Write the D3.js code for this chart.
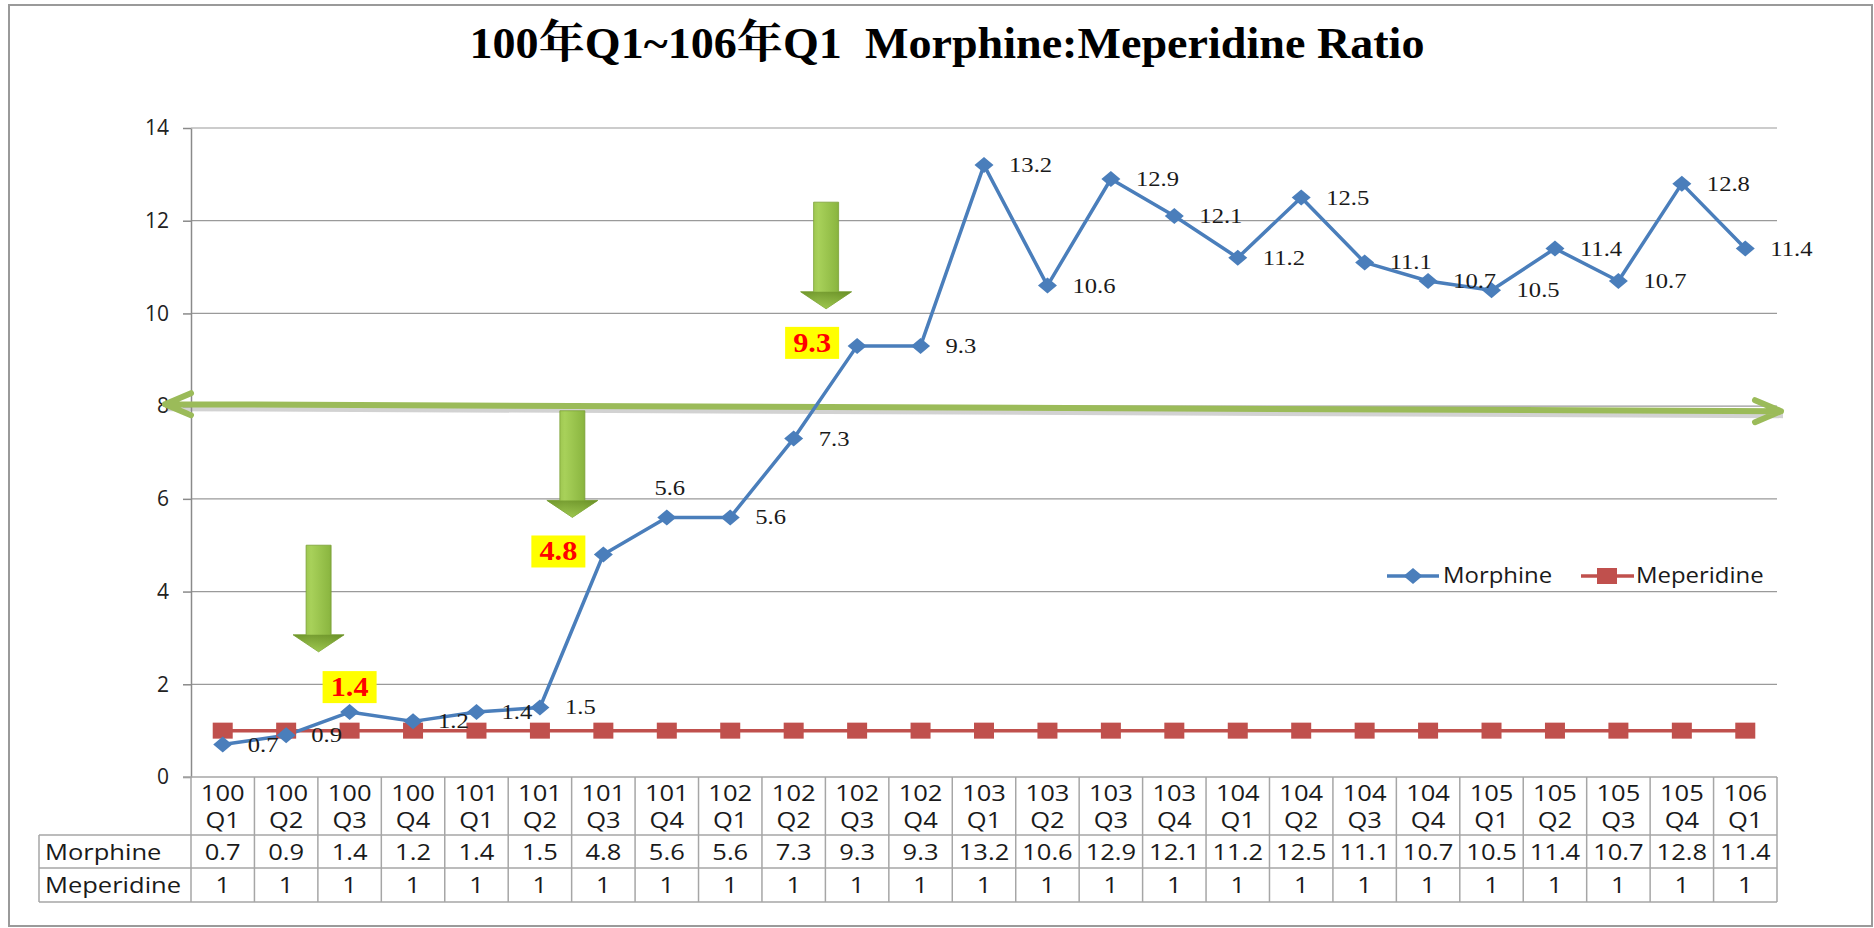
<!DOCTYPE html>
<html>
<head>
<meta charset="utf-8">
<script src="https://cdn.jsdelivr.net/npm/d3@7"></script>
<style>
  html, body { margin: 0; padding: 0; background: #fff; }
  svg { display: block; }
</style>
</head>
<body>
<svg id="chart" width="1874" height="928"></svg>
<script>
// ---------------- data ----------------
const title = "100年Q1~106年Q1  Morphine:Meperidine Ratio";
const years = ["100","100","100","100","101","101","101","101","102","102","102","102","103","103","103","103","104","104","104","104","105","105","105","105","106"];
const quarters = ["Q1","Q2","Q3","Q4","Q1","Q2","Q3","Q4","Q1","Q2","Q3","Q4","Q1","Q2","Q3","Q4","Q1","Q2","Q3","Q4","Q1","Q2","Q3","Q4","Q1"];
const categories = years.map((y, i) => y + " " + quarters[i]);
const morphine = [0.7, 0.9, 1.4, 1.2, 1.4, 1.5, 4.8, 5.6, 5.6, 7.3, 9.3, 9.3, 13.2, 10.6, 12.9, 12.1, 11.2, 12.5, 11.1, 10.7, 10.5, 11.4, 10.7, 12.8, 11.4];
const meperidine = [1, 1, 1, 1, 1, 1, 1, 1, 1, 1, 1, 1, 1, 1, 1, 1, 1, 1, 1, 1, 1, 1, 1, 1, 1];
const seriesNames = ["Morphine", "Meperidine"];
const yTicks = [0, 2, 4, 6, 8, 10, 12, 14];
const thresholdValue = 8;
// highlighted labels (category index -> placement)
const highlighted = { 2: "above", 6: "left", 10: "left" };
const aboveLabels = { 7: true };
// green down-arrows: category index, top value, tip value
const downArrows = [
  { idx: 2, top: 5.0, tip: 2.7 },
  { idx: 6, top: 7.9, tip: 5.6 },
  { idx: 10, top: 12.4, tip: 10.1 }
];

// ---------------- layout ----------------
const svg = d3.select("#chart");
const plotL = 191, plotR = 1777, plotT = 128, plotB = 777;
const rowHeader = 835, rowM = 868, rowP = 902, tableL = 39;

const x = d3.scaleBand().domain(categories).range([plotL, plotR]).padding(0);
const y = d3.scaleLinear().domain([0, 14]).range([plotB, plotT]);
const cx = i => x(categories[i]) + x.bandwidth() / 2;

const blue = "#4A7EBB", red = "#C0504D";
const sansFont = "'Open Sans', 'Noto Sans', sans-serif";
const serifFont = "'Liberation Serif', 'Times New Roman', 'Noto Serif CJK TC', 'Noto Sans CJK TC', serif";

// text placed with a horizontal stretch (the reference is slightly widened)
function stext(parent, tx, ty, str, sx, anchor) {
  return parent.append("text")
    .attr("transform", `translate(${tx},${ty}) scale(${sx},1)`)
    .attr("text-anchor", anchor || "start")
    .text(str);
}

const defs = svg.append("defs");
const grad = defs.append("linearGradient").attr("id", "arrowGrad")
  .attr("x1", "0%").attr("x2", "100%").attr("y1", "0%").attr("y2", "0%");
grad.append("stop").attr("offset", "0%").attr("stop-color", "#86AE3A");
grad.append("stop").attr("offset", "35%").attr("stop-color", "#A8D15A");
grad.append("stop").attr("offset", "70%").attr("stop-color", "#8DB842");
grad.append("stop").attr("offset", "100%").attr("stop-color", "#5E8422");
const gradV = defs.append("linearGradient").attr("id", "arrowHeadGrad")
  .attr("x1", "0%").attr("x2", "0%").attr("y1", "0%").attr("y2", "100%");
gradV.append("stop").attr("offset", "0%").attr("stop-color", "#6B9128");
gradV.append("stop").attr("offset", "100%").attr("stop-color", "#9CC64E");

// outer frame
svg.append("rect").attr("x", 9).attr("y", 5).attr("width", 1863).attr("height", 921)
  .attr("fill", "none").attr("stroke", "#9a9a9a").attr("stroke-width", 2);

// title
svg.append("text").attr("x", 947).attr("y", 58).attr("text-anchor", "middle")
  .attr("font-family", serifFont).attr("font-weight", "bold").attr("font-size", 45)
  .attr("textLength", 955).attr("lengthAdjust", "spacingAndGlyphs")
  .style("white-space", "pre").attr("xml:space", "preserve")
  .attr("fill", "#000").text(title);

// gridlines
svg.append("g").selectAll("line").data(yTicks.filter(v => v > 0)).join("line")
  .attr("x1", plotL).attr("x2", plotR).attr("y1", d => y(d)).attr("y2", d => y(d))
  .attr("stroke", "#9a9a9a").attr("stroke-width", 1.2);

// y axis
const yAxis = svg.append("g").attr("transform", `translate(${plotL},0)`)
  .call(d3.axisLeft(y).tickValues(yTicks).tickSize(8).tickSizeOuter(0).tickPadding(14).tickFormat(d3.format("d")));
yAxis.select(".domain").attr("stroke", "#8a8a8a").attr("stroke-width", 1.5);
yAxis.selectAll(".tick line").attr("stroke", "#8a8a8a").attr("stroke-width", 1.5);
yAxis.selectAll(".tick text").attr("font-family", sansFont).attr("font-size", 21).attr("fill", "#222");

// table
const tg = svg.append("g").attr("stroke", "#a6a6a6").attr("stroke-width", 1.5);
tg.append("line").attr("x1", plotL - 8).attr("x2", plotR).attr("y1", plotB).attr("y2", plotB);
[rowHeader, rowM, rowP].forEach(yy => tg.append("line").attr("x1", tableL).attr("x2", plotR).attr("y1", yy).attr("y2", yy));
tg.append("line").attr("x1", tableL).attr("x2", tableL).attr("y1", rowHeader).attr("y2", rowP);
const bounds = categories.map(c => x(c)).concat([plotR]);
tg.selectAll(".vb").data(bounds).join("line").attr("class", "vb")
  .attr("x1", d => d).attr("x2", d => d).attr("y1", plotB).attr("y2", rowP);

const txt = svg.append("g").attr("font-family", sansFont).attr("font-size", 22).attr("fill", "#1a1a1a");
const tsx = 1.16;
years.forEach((d, i) => stext(txt, cx(i), 801, d, tsx, "middle"));
quarters.forEach((d, i) => stext(txt, cx(i), 828, d, tsx, "middle"));
morphine.forEach((d, i) => stext(txt, cx(i), 860, d3.format(".1f")(d), tsx, "middle"));
meperidine.forEach((d, i) => stext(txt, cx(i), 893, String(d), tsx, "middle"));
stext(txt, 45, 860, seriesNames[0], tsx);
stext(txt, 45, 893, seriesNames[1], tsx);

// horizontal threshold double arrow (slightly tilted as in the reference)
const ty = y(thresholdValue);
const hx1 = plotL - 26, hx2 = plotR + 4;
const ly = ty - 2, ry = ty + 5;
const hArrow = svg.append("g");
hArrow.append("path")
  .attr("d", `M${hx1 + 2},${ly + 4} L${hx2 + 2},${ry + 4}`)
  .attr("stroke", "#7f7f7f").attr("stroke-opacity", 0.35).attr("stroke-width", 6).attr("fill", "none");
hArrow.append("path")
  .attr("d", `M${hx1},${ly} L${hx2},${ry} M${hx1 + 26},${ly - 11} L${hx1},${ly} L${hx1 + 26},${ly + 11} M${hx2 - 26},${ry - 11} L${hx2},${ry} L${hx2 - 26},${ry + 11}`)
  .attr("stroke", "#9BBB59").attr("stroke-width", 6).attr("fill", "none")
  .attr("stroke-linecap", "round").attr("stroke-linejoin", "round");

// green down arrows
const ag = svg.append("g");
downArrows.forEach(a => {
  const c = cx(a.idx) - 31;
  const top = y(a.top), tip = y(a.tip);
  const sw = 12.5, hw = 25.5, hl = 17;
  ag.append("path")
    .attr("d", `M${c - sw},${top} L${c + sw},${top} L${c + sw},${tip - hl} L${c + hw},${tip - hl} L${c},${tip} L${c - hw},${tip - hl} L${c - sw},${tip - hl} Z`)
    .attr("fill", "url(#arrowGrad)").attr("stroke", "#7a9f35").attr("stroke-width", 0.8);
  ag.append("path")
    .attr("d", `M${c - hw},${tip - hl} L${c + hw},${tip - hl} L${c},${tip} Z`)
    .attr("fill", "url(#arrowHeadGrad)").attr("opacity", 0.8);
});

// lines
const line = d3.line().x((d, i) => cx(i)).y(d => y(d));
svg.append("path").datum(meperidine).attr("d", line)
  .attr("fill", "none").attr("stroke", red).attr("stroke-width", 3.5);
svg.append("path").datum(morphine).attr("d", line)
  .attr("fill", "none").attr("stroke", blue).attr("stroke-width", 3.5).attr("stroke-linejoin", "round");

// markers
svg.append("g").selectAll("rect").data(meperidine).join("rect")
  .attr("x", (d, i) => cx(i) - 10).attr("y", d => y(d) - 8).attr("width", 20).attr("height", 16)
  .attr("fill", red);
const diamond = "M0,-8 L9.5,0 L0,8 L-9.5,0 Z";
svg.append("g").selectAll("path").data(morphine).join("path")
  .attr("d", diamond).attr("transform", (d, i) => `translate(${cx(i)},${y(d)})`)
  .attr("fill", blue);

// data labels
const lg = svg.append("g").attr("font-family", serifFont).attr("font-size", 22).attr("fill", "#1a1a1a");
const lsx = 1.12;
morphine.forEach((v, i) => {
  const px = cx(i), py = y(v);
  const label = d3.format(".1f")(v);
  if (highlighted[i]) {
    const bw = 54, bh = 32;
    let bx, by;
    if (highlighted[i] === "above") { bx = px - bw / 2; by = py - 9 - bh; }
    else { bx = px - 18 - bw; by = py - 3 - bh / 2; }
    svg.append("rect").attr("x", bx).attr("y", by).attr("width", bw).attr("height", bh).attr("fill", "#FFFF00");
    const t = stext(svg, bx + bw / 2, by + bh / 2 + 9, label, 1.12, "middle");
    t.attr("font-family", serifFont).attr("font-weight", "bold").attr("font-size", 27).attr("fill", "#FF0000");
  } else if (aboveLabels[i]) {
    stext(lg, px + 3, py - 22, label, lsx, "middle");
  } else {
    stext(lg, px + 25, py + 7, label, lsx, "start");
  }
});

// legend
const leg = svg.append("g");
const legY = 576;
leg.append("line").attr("x1", 1387).attr("x2", 1439).attr("y1", legY).attr("y2", legY).attr("stroke", blue).attr("stroke-width", 3.5);
leg.append("path").attr("d", diamond).attr("transform", `translate(1413,${legY})`).attr("fill", blue);
const legT = leg.append("g").attr("font-family", sansFont).attr("font-size", 21).attr("fill", "#1a1a1a");
stext(legT, 1443, legY + 7, seriesNames[0], 1.14);
leg.append("line").attr("x1", 1581).attr("x2", 1634).attr("y1", legY).attr("y2", legY).attr("stroke", red).attr("stroke-width", 3.5);
leg.append("rect").attr("x", 1597).attr("y", legY - 8).attr("width", 20).attr("height", 16).attr("fill", red);
stext(legT, 1636, legY + 7, seriesNames[1], 1.14);
</script>
</body>
</html>
